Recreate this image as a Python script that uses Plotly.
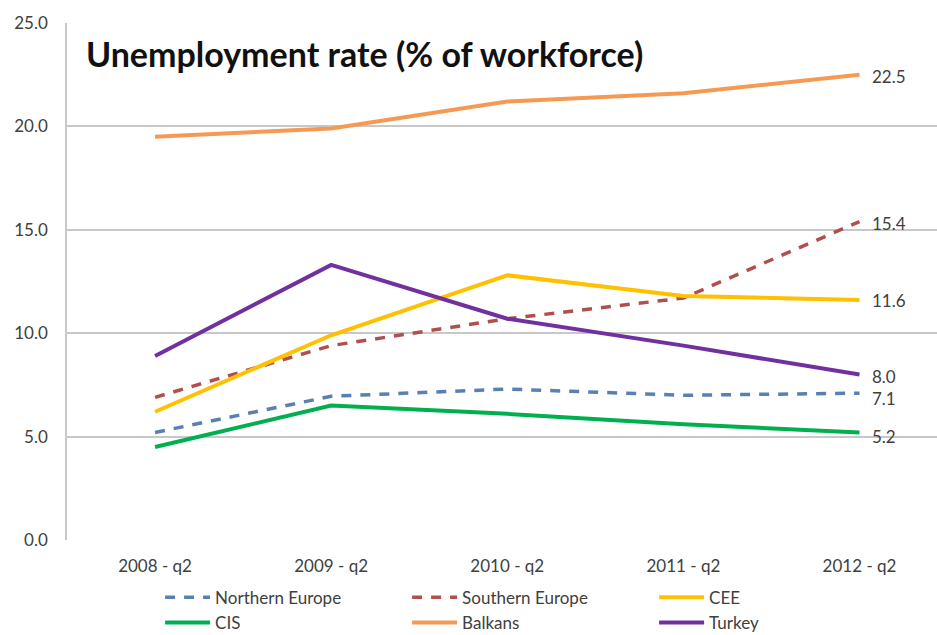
import plotly.graph_objects as go

categories = ["2008 - q2", "2009 - q2", "2010 - q2", "2011 - q2", "2012 - q2"]
northern_europe = [5.2, 6.95, 7.3, 7.0, 7.1]
southern_europe = [6.9, 9.4, 10.7, 11.7, 15.4]
cee = [6.2, 9.9, 12.8, 11.8, 11.6]
cis = [4.5, 6.5, 6.1, 5.6, 5.2]
balkans = [19.5, 19.9, 21.2, 21.6, 22.5]
turkey = [8.9, 13.3, 10.7, 9.4, 8.0]
y_ticks = [0, 5, 10, 15, 20, 25]

series = [
    ("Northern Europe", northern_europe, "#5a80b0", "10px,9px"),
    ("Southern Europe", southern_europe, "#b0504e", "10px,9px"),
    ("CEE", cee, "#ffc000", "solid"),
    ("CIS", cis, "#00b050", "solid"),
    ("Balkans", balkans, "#f59a55", "solid"),
    ("Turkey", turkey, "#7030a0", "solid"),
]

FONT = "Lato"
GRAY = "#404040"

fig = go.Figure()
for name, vals, col, dash in series:
    fig.add_trace(go.Scatter(
        x=list(range(len(categories))), y=vals, name=name, mode="lines",
        line=dict(color=col, width=4 if dash == "solid" else 3.5, dash=dash),
    ))

label_shift = {"Northern Europe": -5, "Turkey": -2, "CIS": -4, "Balkans": -2, "Southern Europe": -2}
for name, vals, col, dash in series:
    fig.add_annotation(
        x=len(categories) - 1, y=vals[-1], text=f"{vals[-1]:.1f}",
        xanchor="left", yanchor="middle", xshift=10,
        yshift=label_shift.get(name, 0), showarrow=False,
        font=dict(family=FONT, size=17, color=GRAY),
    )

fig.add_annotation(
    x=0.02, y=0.985, xref="paper", yref="paper", xanchor="left", yanchor="top",
    text="<b>Unemployment rate (% of workforce)</b>", showarrow=False,
    font=dict(family=FONT, size=34, color="#111111"),
)

fig.update_layout(
    width=937, height=635,
    margin=dict(l=67, r=0, t=23, b=95, autoexpand=False),
    paper_bgcolor="white", plot_bgcolor="white",
    showlegend=True,
    legend=dict(
        orientation="h", x=0.107, xanchor="left", y=-0.077, yanchor="top",
        font=dict(family=FONT, size=17, color=GRAY),
        entrywidth=187, itemwidth=45, tracegroupgap=0,
    ),
    xaxis=dict(
        range=[-0.5, 4.44], tickmode="array",
        tickvals=list(range(len(categories))), ticktext=categories,
        showgrid=False, zeroline=False, showline=False,
        tickfont=dict(family=FONT, size=17, color=GRAY), ticks="",
        ticklabelstandoff=14,
    ),
    yaxis=dict(
        range=[0, 25], tickmode="array", tickvals=y_ticks,
        ticktext=[f"{v:.1f}" for v in y_ticks],
        showgrid=True, gridcolor="#c8c8c8", gridwidth=1.5,
        zeroline=False, showline=True, linecolor="#c8c8c8", linewidth=1.5,
        tickfont=dict(family=FONT, size=17, color=GRAY), ticks="",
        ticklabelstandoff=14,
    ),
)

fig.write_html("out.html")
